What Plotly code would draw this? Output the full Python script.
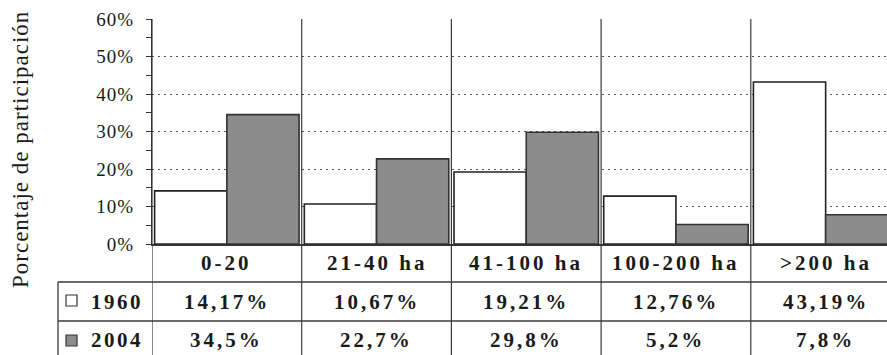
import plotly.graph_objects as go

# ---- data ----
categories = ["0-20", "21-40 ha", "41-100 ha", "100-200 ha", ">200 ha"]
years = ["1960", "2004"]
values_1960 = [14.17, 10.67, 19.21, 12.76, 43.19]
values_2004 = [34.5, 22.7, 29.8, 5.2, 7.8]
y_ticks = [0, 10, 20, 30, 40, 50, 60]
y_title = "Porcentaje de participación"

# ---- geometry (pixels of the 887x355 canvas) ----
W, H = 887, 355
plot_left = 152
y_zero_px, y_top_px = 244, 19
cat_w = 149.7
row1_y, row2_y, row3_y = 263, 302, 340   # text centres
line1_y, line2_y = 282, 321             # horizontal table rules
table_left = 58

def py(p):  # pixel y -> paper
    return (H - p) / H

def px(p):  # pixel x -> paper
    return p / W

SERIF = "Liberation Serif"
TXT = "#1a1a1a"
LINE = "#3a3a3a"
GREY = "#8c8c8c"

def fmt(v):
    return str(v).replace(".", ",") + "%"

fig = go.Figure()
fig.add_trace(go.Bar(x=categories, y=values_1960, name=years[0],
                     marker=dict(color="white", line=dict(color="#222", width=1.6))))
fig.add_trace(go.Bar(x=categories, y=values_2004, name=years[1],
                     marker=dict(color=GREY, line=dict(color="#333", width=1.6))))

x_end = -0.5 + (W - plot_left) / cat_w

shapes = []
# vertical category separators (chart + table)
for i in range(1, len(categories)):
    shapes.append(dict(type="line", xref="x", yref="paper", x0=i - 0.5, x1=i - 0.5,
                       y0=0, y1=py(y_top_px), line=dict(color=LINE, width=1.2), layer="above"))
# y axis extension into table
shapes.append(dict(type="line", xref="x", yref="paper", x0=-0.5, x1=-0.5,
                   y0=0, y1=py(y_top_px), line=dict(color=LINE, width=1.2), layer="above"))
# horizontal table rules
for ly in (line1_y, line2_y):
    shapes.append(dict(type="line", xref="paper", yref="paper", x0=px(table_left), x1=1,
                       y0=py(ly), y1=py(ly), line=dict(color=LINE, width=1.3)))
# table left border
shapes.append(dict(type="line", xref="paper", yref="paper", x0=px(table_left), x1=px(table_left),
                   y0=0, y1=py(line1_y), line=dict(color=LINE, width=1.3)))
# legend keys
for (yc, fill) in ((300.5, "white"), (340.5, GREY)):
    shapes.append(dict(type="rect", xref="paper", yref="paper",
                       x0=px(66), x1=px(77), y0=py(yc + 5.5), y1=py(yc - 5.5),
                       fillcolor=fill, line=dict(color="#333", width=1.2)))

def spaced(t, s):
    return f"<span style='letter-spacing:{s}px'>{t}</span>"

ann = []
cell_font = dict(family=SERIF, size=21, color=TXT, weight="bold")
for c, v1, v2 in zip(categories, values_1960, values_2004):
    ann.append(dict(x=c, xref="x", y=py(row1_y), yref="paper", text=spaced(c, 3),
                    showarrow=False, font=cell_font, xanchor="center", yanchor="middle"))
    ann.append(dict(x=c, xref="x", y=py(row2_y), yref="paper", text=spaced(fmt(v1), 3),
                    showarrow=False, font=cell_font, xanchor="center", yanchor="middle"))
    ann.append(dict(x=c, xref="x", y=py(row3_y), yref="paper", text=spaced(fmt(v2), 3),
                    showarrow=False, font=cell_font, xanchor="center", yanchor="middle"))
for yr, yc in zip(years, (row2_y, row3_y)):
    ann.append(dict(x=px(89), xref="paper", y=py(yc), yref="paper", text=spaced(yr, 2.5),
                    showarrow=False, font=cell_font, xanchor="left", yanchor="middle"))
ann.append(dict(x=px(20), xref="paper", y=py(150), yref="paper", text=spaced(y_title, 1),
                textangle=-90, showarrow=False, xanchor="center", yanchor="middle",
                font=dict(family=SERIF, size=23, color=TXT)))

fig.update_layout(
    template="none",
    width=W, height=H,
    margin=dict(l=0, r=0, t=0, b=0),
    paper_bgcolor="white", plot_bgcolor="white",
    barmode="group", bargap=0.035, bargroupgap=0,
    showlegend=False,
    shapes=shapes, annotations=ann,
    xaxis=dict(domain=[px(plot_left), 1], range=[-0.5, x_end], showticklabels=False,
               ticks="", showgrid=False, zeroline=False, showline=True,
               linecolor="#333", linewidth=1.5, automargin=False, fixedrange=True),
    yaxis=dict(domain=[py(y_zero_px), py(y_top_px)], range=[0, 60],
               tickvals=y_ticks, ticktext=[spaced(f"{t}%", 1) for t in y_ticks],
               tickfont=dict(family=SERIF, size=19, color=TXT),
               ticks="outside", ticklen=5, tickcolor="#333", tickwidth=1,
               ticklabelstandoff=8,
               minor=dict(dtick=5, ticks="outside", ticklen=5, tickcolor="#333", showgrid=False),
               showgrid=True, gridcolor="#555", gridwidth=1, griddash="2px,4px",
               zeroline=False, showline=True, linecolor="#333", linewidth=1.2,
               automargin=False, fixedrange=True),
)

fig.write_html("out.html", config={"displayModeBar": False},
               post_script="document.body.style.margin='0';document.body.style.overflow='hidden';")
